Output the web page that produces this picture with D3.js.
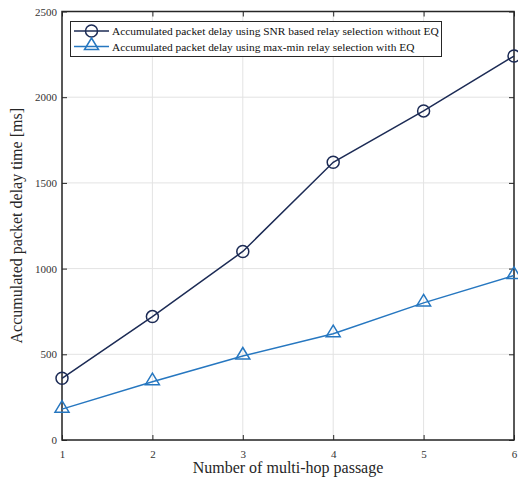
<!DOCTYPE html>
<html>
<head>
<meta charset="utf-8">
<script src="https://cdn.jsdelivr.net/npm/d3@7"></script>
<style>
  html, body { margin: 0; padding: 0; background: #fff; }
  svg { display: block; font-family: "Liberation Serif", "Times New Roman", serif; }
  svg text { font-family: "Liberation Serif", "Times New Roman", serif; }
</style>
</head>
<body>
<svg id="chart" width="518" height="482"></svg>
<script>
// Hop counts along the x axis
const hops = [1, 2, 3, 4, 5, 6];
// Accumulated packet delay [ms] per series
const delaySNR = [360, 720, 1100, 1620, 1920, 2240];
const delayMaxMin = [180, 340, 490, 620, 800, 960];
const seriesNames = [
  "Accumulated packet delay using SNR based relay selection without EQ",
  "Accumulated packet delay using max-min relay selection with EQ"
];
const yTicks = [0, 500, 1000, 1500, 2000, 2500];
const xTicks = [1, 2, 3, 4, 5, 6];

const colors = ["#1c2b55", "#2677c0"];

const svg = d3.select("#chart");
const margin = { left: 62, right: 4, top: 11.5, bottom: 42 };
const W = 518, H = 482;
const x0 = margin.left, x1 = W - margin.right, y0 = H - margin.bottom, y1 = margin.top;

const x = d3.scaleLinear().domain([1, 6]).range([x0, x1]);
const y = d3.scaleLinear().domain([0, 2500]).range([y0, y1]);

// Grid
const grid = svg.append("g").attr("stroke", "#e3e3e3").attr("stroke-width", 1);
xTicks.forEach(t => grid.append("line").attr("x1", x(t)).attr("x2", x(t)).attr("y1", y0).attr("y2", y1));
yTicks.forEach(t => grid.append("line").attr("x1", x0).attr("x2", x1).attr("y1", y(t)).attr("y2", y(t)));

// Axes with inward ticks
const axisColor = "#262626";
const xAxis = svg.append("g").attr("transform", `translate(0,${y0})`)
  .call(d3.axisBottom(x).tickValues(xTicks).tickSizeInner(-5).tickSizeOuter(0).tickPadding(10).tickFormat(d3.format("d")));
const yAxis = svg.append("g").attr("transform", `translate(${x0},0)`)
  .call(d3.axisLeft(y).tickValues(yTicks).tickSizeInner(-5).tickSizeOuter(0).tickPadding(5).tickFormat(d3.format("d")));
const xTop = svg.append("g").attr("transform", `translate(0,${y1})`)
  .call(d3.axisTop(x).tickValues(xTicks).tickSizeInner(-5).tickSizeOuter(0).tickFormat(""));
const yRight = svg.append("g").attr("transform", `translate(${x1},0)`)
  .call(d3.axisRight(y).tickValues(yTicks).tickSizeInner(-5).tickSizeOuter(0).tickFormat(""));

[xAxis, yAxis, xTop, yRight].forEach(g => {
  g.attr("font-family", null);
  g.select(".domain").remove();
  g.selectAll(".tick line").attr("stroke", axisColor).attr("stroke-width", 1);
  g.selectAll(".tick text").attr("fill", "#333").attr("font-size", 11);
});

// Box
svg.append("rect").attr("x", x0).attr("y", y1).attr("width", x1 - x0).attr("height", y0 - y1)
  .attr("fill", "none").attr("stroke", axisColor).attr("stroke-width", 1.5);

// Axis labels
svg.append("text").attr("x", (x0 + x1) / 2).attr("y", 473).attr("text-anchor", "middle")
  .attr("font-size", 16).attr("fill", "#262626").text("Number of multi-hop passage");
svg.append("text").attr("transform", `translate(22,${(y0 + y1) / 2}) rotate(-90)`)
  .attr("text-anchor", "middle").attr("font-size", 16).attr("fill", "#262626")
  .text("Accumulated packet delay time [ms]");

// Markers
function triPath(cx, cy) {
  const s = 7;
  return `M${cx},${cy - 8.5}L${cx + s},${cy + 3}L${cx - s},${cy + 3}Z`;
}
function drawMarker(g, kind, cx, cy, color) {
  if (kind === "circle") {
    g.append("circle").attr("cx", cx).attr("cy", cy).attr("r", 6)
      .attr("fill", "none").attr("stroke", color).attr("stroke-width", 1.5);
  } else {
    g.append("path").attr("d", triPath(cx, cy))
      .attr("fill", "none").attr("stroke", color).attr("stroke-width", 1.5);
  }
}

const series = [
  { vals: delaySNR, color: colors[0], marker: "circle" },
  { vals: delayMaxMin, color: colors[1], marker: "tri" }
];
const line = d3.line().x(d => x(d[0])).y(d => y(d[1]));
series.forEach(s => {
  const pts = hops.map((h, i) => [h, s.vals[i]]);
  svg.append("path").attr("d", line(pts)).attr("fill", "none")
    .attr("stroke", s.color).attr("stroke-width", 1.5);
  const g = svg.append("g");
  pts.forEach(p => drawMarker(g, s.marker, x(p[0]), y(p[1]), s.color));
});

// Legend
const lg = svg.append("g");
lg.append("rect").attr("x", 70.5).attr("y", 21.5).attr("width", 371).attr("height", 35)
  .attr("fill", "#fff").attr("stroke", axisColor).attr("stroke-width", 1);
seriesNames.forEach((name, i) => {
  const ly = 31 + i * 15.5;
  lg.append("line").attr("x1", 74).attr("x2", 109).attr("y1", ly).attr("y2", ly)
    .attr("stroke", series[i].color).attr("stroke-width", 1.5);
  drawMarker(lg, series[i].marker, 91.5, ly, series[i].color);
  lg.append("text").attr("x", 112).attr("y", ly + 4).attr("font-size", 11.4)
    .attr("fill", "#111").text(name);
});
</script>
</body>
</html>
